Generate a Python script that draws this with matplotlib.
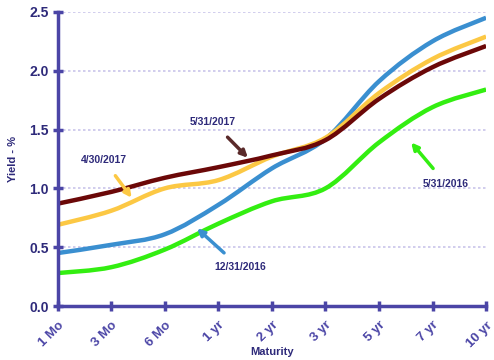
import numpy as np
import matplotlib.pyplot as plt
from matplotlib.path import Path
from matplotlib.patches import PathPatch

maturities = ["1 Mo", "3 Mo", "6 Mo", "1 yr", "2 yr", "3 yr", "5 yr", "7 yr", "10 yr"]
may_2016 = [0.28, 0.33, 0.48, 0.70, 0.89, 1.00, 1.39, 1.69, 1.84]
dec_2016 = [0.45, 0.52, 0.61, 0.86, 1.17, 1.42, 1.91, 2.25, 2.45]
apr_2017 = [0.69, 0.81, 1.00, 1.07, 1.27, 1.43, 1.81, 2.10, 2.29]
may_2017 = [0.87, 0.97, 1.09, 1.18, 1.28, 1.41, 1.76, 2.03, 2.21]

TXT = "#2e2a7a"
AXC = "#4b45a6"


def smooth_path(xs, ys):
    # Excel style smoothed line: cubic bezier with catmull-rom handles
    pts = np.column_stack([xs, ys]).astype(float)
    verts = [pts[0]]
    codes = [Path.MOVETO]
    n = len(pts)
    for i in range(n - 1):
        p0 = pts[max(i - 1, 0)]
        p1 = pts[i]
        p2 = pts[i + 1]
        p3 = pts[min(i + 2, n - 1)]
        c1 = p1 + (p2 - p0) / 6.0
        c2 = p2 - (p3 - p1) / 6.0
        verts += [c1, c2, p2]
        codes += [Path.CURVE4] * 3
    return Path(verts, codes)


fig = plt.figure(figsize=(4.94, 3.6), dpi=100)
ax = fig.add_axes([0.117, 0.15, 0.867, 0.817])
x = np.arange(len(maturities))

series = [
    (may_2016, "#33ee11"),
    (dec_2016, "#3a8fd0"),
    (apr_2017, "#fcc844"),
    (may_2017, "#6b0808"),
]
for vals, col in series:
    ax.add_patch(PathPatch(smooth_path(x, vals), fill=False, edgecolor=col,
                           lw=3.2, capstyle="butt", zorder=3))

ax.set_xlim(0, 8)
ax.set_ylim(0, 2.5)
ax.set_yticks(np.arange(0, 2.51, 0.5))
ax.set_yticklabels([f"{v:.1f}" for v in np.arange(0, 2.51, 0.5)],
                   fontsize=10, fontweight="bold", color=TXT, family="Liberation Sans")
ax.set_xticks(x)
ax.set_xticklabels(maturities, rotation=45, ha="right", rotation_mode="anchor",
                   fontsize=9.5, fontweight="bold", color=AXC, family="Liberation Sans")
for yv in np.arange(0.5, 2.51, 0.5):
    ax.axhline(yv, color="#c9c5ea", lw=1.2, ls=(0, (1.5, 1.5)), zorder=1)

for s in ["top", "right"]:
    ax.spines[s].set_visible(False)
for s in ["left", "bottom"]:
    ax.spines[s].set_color(AXC)
    ax.spines[s].set_linewidth(2.5)
    ax.spines[s].set_zorder(4)
ax.tick_params(direction="inout", length=7, width=2.5, color=AXC, pad=3)
ax.tick_params(axis="x", pad=6)

ax.set_xlabel("Maturity", fontsize=8, fontweight="bold", color=TXT,
              family="Liberation Sans", labelpad=-2)
ax.set_ylabel("Yield - %", fontsize=8, fontweight="bold", color=TXT,
              family="Liberation Sans", labelpad=8)

notes = [
    ("5/31/2017", (2.9, 1.56), (3.55, 1.26), "#5a2a2a"),
    ("4/30/2017", (0.86, 1.24), (1.38, 0.92), "#fcc844"),
    ("12/31/2016", (3.4, 0.33), (2.6, 0.66), "#3a8fd0"),
    ("5/31/2016", (7.25, 1.04), (6.6, 1.39), "#33ee11"),
]
for label, txy, axy, col in notes:
    ax.annotate(label, xy=axy, xytext=txy, ha="center", va="center",
                fontsize=7.5, fontweight="bold", color=TXT, family="Liberation Sans",
                arrowprops=dict(arrowstyle="-|>", color=col, lw=2.5,
                                mutation_scale=10, shrinkA=7, shrinkB=0),
                zorder=5)

fig.savefig("out.png", dpi=100)
